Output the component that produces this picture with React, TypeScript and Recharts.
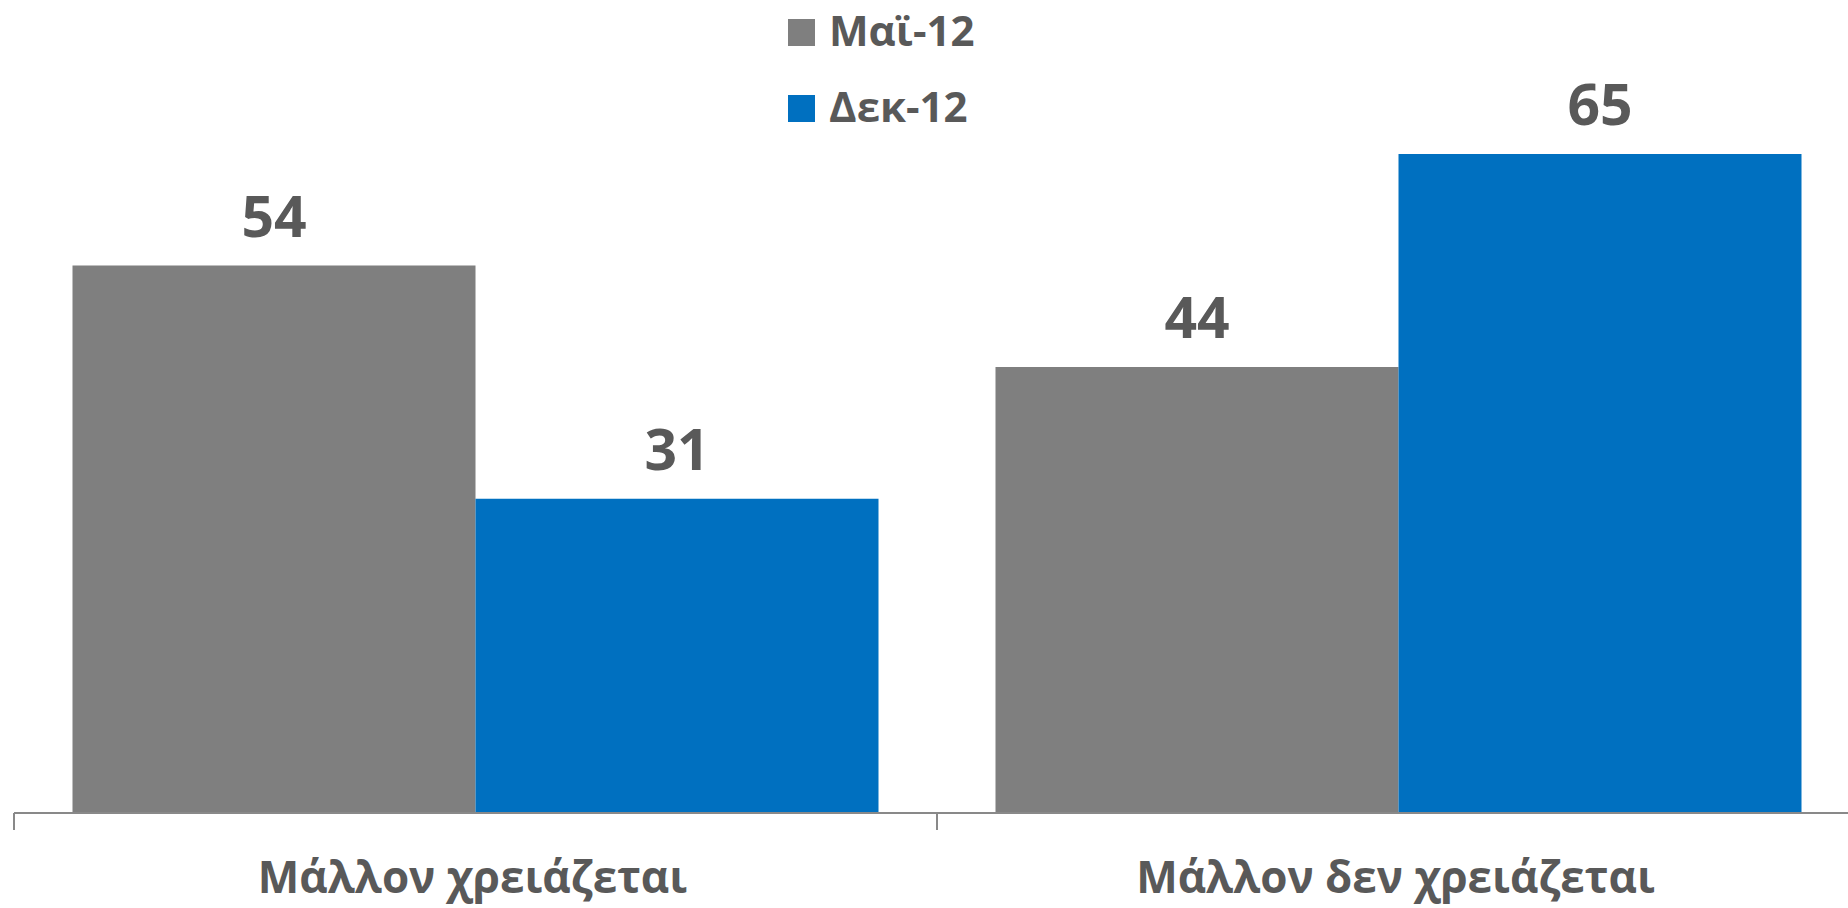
import React from 'react';
import { BarChart, Bar, XAxis, YAxis, Legend, LabelList } from 'recharts';

const categories = ['Μάλλον χρειάζεται', 'Μάλλον δεν χρειάζεται'];
const may12 = [54, 44];
const dec12 = [31, 65];
const seriesNames = ['Μαϊ-12', 'Δεκ-12'];
const seriesColors = ['#7F7F7F', '#0070C0'];

const data = categories.map((name, i) => ({ name, may: may12[i], dec: dec12[i] }));

const FONT = '"Open Sans", "DejaVu Sans", sans-serif';
const TEXT = '#595959';
const AXIS = '#898989';

const CategoryTick = (props: any) => {
  const { x, y, payload, width, visibleTicksCount, index } = props;
  const half = width / visibleTicksCount / 2;
  const isLast = index === visibleTicksCount - 1;
  return (
    <g>
      <line x1={x - half} x2={x - half} y1={y} y2={y + 17} stroke={AXIS} strokeWidth={2} />
      {isLast && <line x1={x + half} x2={x + half} y1={y} y2={y + 17} stroke={AXIS} strokeWidth={2} />}
      <text x={x - 3} y={y + 80} textAnchor="middle" fill={TEXT} fontFamily={FONT} fontWeight={700} fontSize={44}>
        {payload.value}
      </text>
    </g>
  );
};

const LegendContent = (props: any) => {
  const items = [...(props.payload || [])].sort(
    (a: any, b: any) => seriesNames.indexOf(a.value) - seriesNames.indexOf(b.value)
  );
  return (
    <svg width={240} height={150} style={{ display: 'block', overflow: 'visible' }}>
      {items.map((it: any, i: number) => (
        <g key={i}>
          <rect x={0} y={19 + i * 76} width={27} height={27} fill={it.color} />
          <text x={41} y={46 + i * 76} fill={TEXT} fontFamily={FONT} fontWeight={700} fontSize={42}>
            {it.value}
          </text>
        </g>
      ))}
    </svg>
  );
};

export default function App() {
  return (
    <div style={{ position: 'absolute', left: 0, top: 0, width: 1848, height: 908, overflow: 'hidden', background: '#fff' }}>
      <BarChart
        width={1862}
        height={908}
        data={data}
        margin={{ top: 2, right: 2, bottom: 0, left: 14 }}
        barCategoryGap={58.5}
        barGap={0}
      >
        <XAxis
          dataKey="name"
          type="category"
          interval={0}
          height={95}
          tickSize={0}
          tickMargin={0}
          tickLine={false}
          axisLine={{ stroke: AXIS, strokeWidth: 2 }}
          tick={<CategoryTick />}
        />
        <YAxis hide domain={[0, 80]} width={0} />
        <Legend
          layout="vertical"
          align="center"
          verticalAlign="middle"
          wrapperStyle={{ top: 0, left: 788, width: 240, height: 150 }}
          content={<LegendContent />}
        />
        <Bar dataKey="may" name={seriesNames[0]} fill={seriesColors[0]} isAnimationActive={false}>
          <LabelList dataKey="may" position="top" offset={29} fill={TEXT} fontFamily={FONT} fontWeight={700} fontSize={57} />
        </Bar>
        <Bar dataKey="dec" name={seriesNames[1]} fill={seriesColors[1]} isAnimationActive={false}>
          <LabelList dataKey="dec" position="top" offset={29} fill={TEXT} fontFamily={FONT} fontWeight={700} fontSize={57} />
        </Bar>
      </BarChart>
    </div>
  );
}
